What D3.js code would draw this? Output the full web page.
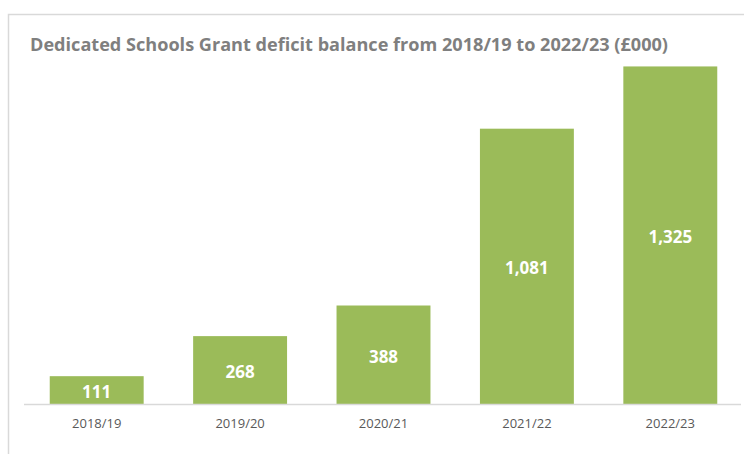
<!DOCTYPE html>
<html>
<head>
<meta charset="utf-8">
<script src="https://cdn.jsdelivr.net/npm/d3@7"></script>
<style>
  body { margin: 0; background: #fff; }
  svg { display: block; }
</style>
</head>
<body>
<svg></svg>
<script>
// данные графика
let years = ["2018/19", "2019/20", "2020/21", "2021/22", "2022/23"];
let deficit = [111, 268, 388, 1081, 1325];
let chartTitle = "Dedicated Schools Grant deficit balance from 2018/19 to 2022/23 (£000)";

let width = 744;
let height = 454;
let svg = d3.select("svg")
    .attr("width", width)
    .attr("height", height);

// рамка области диаграммы (правый и нижний край за пределами кадра)
svg.append("rect")
    .attr("x", 8.5)
    .attr("y", 14.5)
    .attr("width", 760)
    .attr("height", 460)
    .attr("fill", "#fff")
    .attr("stroke", "#d9d9d9")
    .attr("stroke-width", 1.5);

// заголовок
svg.append("text")
    .attr("x", 30)
    .attr("y", 50.5)
    .attr("fill", "#7f7f7f")
    .attr("textLength", 638)
    .attr("lengthAdjust", "spacingAndGlyphs")
    .style("font", "bold 18px 'Open Sans', sans-serif")
    .text(chartTitle);

// шкалы
let baseY = 404.5;
let scaleX = d3.scaleBand()
    .domain(years)
    .range([25, 742])
    .paddingInner(0.345)
    .paddingOuter(0.1725);
let scaleY = d3.scaleLinear()
    .domain([0, 1400])
    .range([baseY, 47.3]);

// столбцы
svg.selectAll(".bar")
    .data(years)
    .enter()
    .append("rect")
    .attr("class", "bar")
    .attr("x", d => scaleX(d))
    .attr("width", scaleX.bandwidth())
    .attr("y", (d, i) => scaleY(deficit[i]))
    .attr("height", (d, i) => baseY - scaleY(deficit[i]))
    .attr("fill", "#9bbb59");

// ось OX
let axisX = d3.axisBottom(scaleX).tickSize(0).tickPadding(14);
let gx = svg.append("g")
    .attr("transform", `translate(0, ${baseY})`)
    .call(axisX);
gx.select(".domain")
    .attr("d", "M24,0H741")
    .attr("stroke", "#d9d9d9")
    .attr("stroke-width", 1.5);
gx.selectAll("text")
    .attr("fill", "#595959")
    .style("font", "13px 'Open Sans', sans-serif");

// подписи значений в центре столбцов
svg.selectAll(".val")
    .data(years)
    .enter()
    .append("text")
    .attr("class", "val")
    .attr("x", d => scaleX(d) + scaleX.bandwidth() / 2)
    .attr("y", (d, i) => (scaleY(deficit[i]) + baseY) / 2)
    .attr("dy", "0.45em")
    .attr("text-anchor", "middle")
    .attr("fill", "#fff")
    .style("font", "bold 17px 'Open Sans', sans-serif")
    .text((d, i) => d3.format(",")(deficit[i]));
</script>
</body>
</html>
